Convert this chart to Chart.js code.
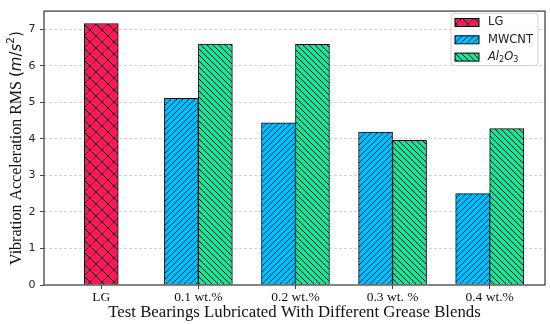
<!DOCTYPE html>
<html><head><meta charset="utf-8">
<script src="https://cdn.jsdelivr.net/npm/chart.js@4.4.1/dist/chart.umd.min.js"></script>
<style>html,body{margin:0;padding:0;background:#fff;}#wrap{width:550px;height:324px;position:relative;}</style>
</head><body><div id="wrap"><canvas id="c" width="550" height="324"></canvas></div>
<script>
// ---- data ----
const categories = ['LG', '0.1 wt.%', '0.2 wt.%', '0.3 wt. %', '0.4 wt.%'];
const lgValues    = [7.16, null, null, null, null];
const mwcntValues = [null, 5.11, 4.44, 4.19, 2.50];
const al2o3Values = [null, 6.60, 6.59, 3.96, 4.28];
const seriesNames = ['LG', 'MWCNT', 'Al_2O_3'];
const yTicks = [0, 1, 2, 3, 4, 5, 6, 7];
const xTitle = 'Test Bearings Lubricated With Different Grease Blends';
const yTitleText = 'Vibration Acceleration RMS ';

// ---- styles ----
const SERIF = '"Liberation Serif", "Times New Roman", serif';
const SANS = '"DejaVu Sans", sans-serif';
const canvas = document.getElementById('c');
const ctx0 = canvas.getContext('2d');

function hatch(color, kind) {
  const s = 12;
  const c = document.createElement('canvas'); c.width = s; c.height = s;
  const g = c.getContext('2d');
  g.fillStyle = color; g.fillRect(0, 0, s, s);
  g.strokeStyle = '#000'; g.lineWidth = 0.9;
  g.beginPath();
  const line = (x0, y0, x1, y1) => { g.moveTo(x0, y0); g.lineTo(x1, y1); };
  if (kind === 'x') {
    for (const o of [-s, 0, s]) { line(o, s, o + s, 0); line(o, 0, o + s, s); }
  } else if (kind === '/') {
    for (const o of [-s, -s / 2, 0, s / 2, s]) line(o, s, o + s, 0);
  } else {
    for (const o of [-s, -s / 2, 0, s / 2, s]) line(o, 0, o + s, s);
  }
  g.stroke();
  return ctx0.createPattern(c, 'repeat');
}

const colors = ['#ff165d', '#00bdf7', '#00f09a'];
const hatches = ['x', '/', '\\'];
const valueSets = [lgValues, mwcntValues, al2o3Values];

// draw "Al_2O_3"-style label: parts after _ digit are subscripts; math labels italic
function drawRich(ctx, label, x, y, size) {
  const math = label.includes('_');
  const parts = label.split(/(_\d)/).filter(p => p.length);
  let cx = x;
  for (const p of parts) {
    if (p.startsWith('_')) {
      ctx.font = `${size * 0.7}px ${SANS}`;
      ctx.fillText(p.slice(1), cx, y + size * 0.22);
      cx += ctx.measureText(p.slice(1)).width;
    } else {
      ctx.font = `${math ? 'italic ' : ''}${size}px ${SANS}`;
      ctx.fillText(p, cx, y);
      cx += ctx.measureText(p).width;
    }
  }
}

const decor = {
  id: 'decor',
  afterDatasetsDraw(chart) {
    const {ctx, chartArea: a} = chart;
    ctx.save();
    // frame
    ctx.strokeStyle = '#444'; ctx.lineWidth = 1.3;
    ctx.strokeRect(a.left, a.top, a.right - a.left, a.bottom - a.top);
    // legend
    const bx = 451, by = 13.5, bw = 87, bh = 52;
    ctx.beginPath();
    ctx.roundRect(bx, by, bw, bh, 3);
    ctx.fillStyle = 'rgba(255,255,255,0.8)'; ctx.fill();
    ctx.strokeStyle = '#d0d0d0'; ctx.lineWidth = 1; ctx.stroke();
    chart.data.datasets.forEach((ds, i) => {
      const cy = 22.5 + i * 17.3;
      ctx.fillStyle = ds.backgroundColor;
      ctx.fillRect(455, cy - 4, 24, 8);
      ctx.strokeStyle = '#000'; ctx.lineWidth = 1;
      ctx.strokeRect(455, cy - 4, 24, 8);
      ctx.fillStyle = '#222'; ctx.textBaseline = 'middle'; ctx.textAlign = 'left';
      drawRich(ctx, ds.label, 488, cy, 11.5);
    });
    // y title with mathtext part
    ctx.translate(20.5, (a.top + a.bottom) / 2);
    ctx.rotate(-Math.PI / 2);
    ctx.textBaseline = 'alphabetic'; ctx.fillStyle = '#111';
    const fs = 16, ms = 15;
    const runs = [
      [yTitleText, `${fs}px ${SERIF}`, 0],
      ['(', `${ms}px ${SANS}`, 0],
      ['m', `italic ${ms}px ${SANS}`, 0],
      ['/', `${ms}px ${SANS}`, 0],
      ['s', `italic ${ms}px ${SANS}`, 0],
      ['2', `${ms * 0.7}px ${SANS}`, -ms * 0.45],
      [')', `${ms}px ${SANS}`, 0]
    ];
    let total = 0;
    for (const r of runs) { ctx.font = r[1]; total += ctx.measureText(r[0]).width; }
    let x = -total / 2;
    for (const r of runs) { ctx.font = r[1]; ctx.fillText(r[0], x, r[2]); x += ctx.measureText(r[0]).width; }
    ctx.restore();
  }
};

new Chart(canvas, {
  type: 'bar',
  data: {
    labels: categories.map((_, i) => i),
    datasets: valueSets.map((vals, i) => ({
      label: seriesNames[i],
      data: vals,
      backgroundColor: hatch(colors[i], hatches[i]),
      borderColor: '#111',
      borderWidth: 1,
      barThickness: 34,
      skipNull: true
    }))
  },
  options: {
    responsive: false,
    animation: false,
    layout: {padding: {top: 8, right: 5, left: 0, bottom: 0}},
    plugins: {legend: {display: false}, tooltip: {enabled: false}},
    scales: {
      x: {
        type: 'linear', min: -0.59, max: 4.57, offset: false,
        afterBuildTicks: s => { s.ticks = categories.map((_, i) => ({value: i})); },
        afterFit: s => { s.height = 39; },
        ticks: {callback: v => categories[v], font: {family: SERIF, size: 13.5, lineHeight: 1.1}, color: '#111', padding: 1, maxRotation: 0, autoSkip: false},
        grid: {offset: false, drawOnChartArea: false, drawTicks: true, tickLength: 4, tickColor: '#444'},
        border: {display: false},
        title: {display: true, text: xTitle, font: {family: SERIF, size: 16.8, lineHeight: 1.2}, color: '#111', padding: {top: 0, bottom: 1}}
      },
      y: {
        min: 0, max: 7.5,
        afterBuildTicks: s => { s.ticks = yTicks.map(v => ({value: v})); },
        afterFit: s => { s.width = 44; },
        ticks: {font: {family: SANS, size: 11}, color: '#222', padding: 4.5},
        grid: {color: c => (c.tick && c.tick.value === 0) ? 'rgba(0,0,0,0)' : '#d4d4d4', lineWidth: 1, tickLength: 4, tickColor: '#444'},
        border: {display: false, dash: [3, 2]}
      }
    }
  },
  plugins: [decor]
});
</script></body></html>
